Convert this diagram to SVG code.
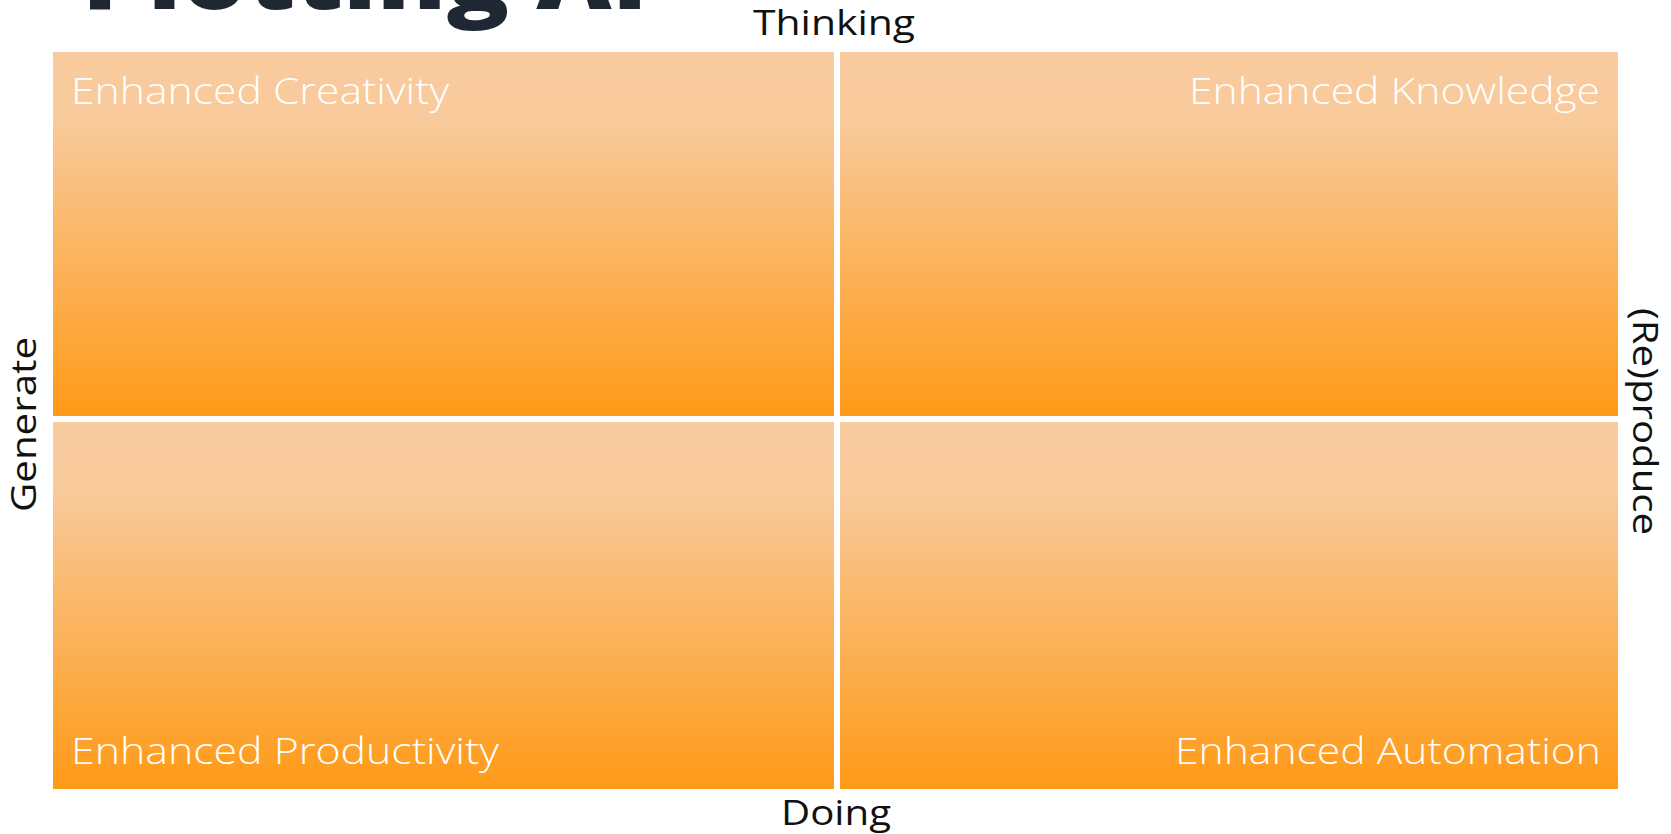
<svg xmlns="http://www.w3.org/2000/svg" width="1671" height="834" viewBox="0 0 1671 834">
  <defs>
    <linearGradient id="cellGrad" x1="0" y1="0" x2="0" y2="1">
      <stop offset="0" stop-color="#f8cb9e"/>
      <stop offset="0.18" stop-color="#f8ca9c"/>
      <stop offset="1" stop-color="#ff9a17"/>
    </linearGradient>
  </defs>
  <style>
    .cell { fill: url(#cellGrad); }
    .qlabel { font-family: "Open Sans", "Liberation Sans", sans-serif; font-weight: 300; font-size: 36px; fill: #ffffff; }
    .axis { font-family: "Open Sans", "Liberation Sans", sans-serif; font-weight: 400; font-size: 35px; fill: #111111; }
    .title { font-family: "Open Sans", "Liberation Sans", sans-serif; font-weight: 800; font-size: 90px; fill: #1f2733; }
  </style>
  <rect width="1671" height="834" fill="#ffffff"/>

  <g id="title">
    <text class="title" x="82" y="9" textLength="566" lengthAdjust="spacingAndGlyphs">Plotting AI</text>
  </g>

  <g id="quadrant-creativity">
    <rect class="cell" x="53" y="52" width="781" height="364"/>
    <text class="qlabel" x="71" y="104" textLength="378" lengthAdjust="spacingAndGlyphs">Enhanced Creativity</text>
  </g>
  <g id="quadrant-knowledge">
    <rect class="cell" x="840" y="52" width="778" height="364"/>
    <text class="qlabel" x="1189" y="104" textLength="411" lengthAdjust="spacingAndGlyphs">Enhanced Knowledge</text>
  </g>
  <g id="quadrant-productivity">
    <rect class="cell" x="53" y="422" width="781" height="367"/>
    <text class="qlabel" x="71" y="764" textLength="428" lengthAdjust="spacingAndGlyphs">Enhanced Productivity</text>
  </g>
  <g id="quadrant-automation">
    <rect class="cell" x="840" y="422" width="778" height="367"/>
    <text class="qlabel" x="1175" y="764" textLength="426" lengthAdjust="spacingAndGlyphs">Enhanced Automation</text>
  </g>

  <g id="axis-thinking">
    <text class="axis" x="753" y="35" textLength="162" lengthAdjust="spacingAndGlyphs">Thinking</text>
  </g>
  <g id="axis-doing">
    <text class="axis" x="781" y="825" textLength="110" lengthAdjust="spacingAndGlyphs">Doing</text>
  </g>
  <g id="axis-generate">
    <text class="axis" transform="translate(36,512) rotate(-90)" x="0" y="0" textLength="175" lengthAdjust="spacingAndGlyphs">Generate</text>
  </g>
  <g id="axis-reproduce">
    <text class="axis" transform="translate(1633,308) rotate(90)" x="0" y="0" textLength="227" lengthAdjust="spacingAndGlyphs">(Re)produce</text>
  </g>

  <g id="connectors"></g>
</svg>
